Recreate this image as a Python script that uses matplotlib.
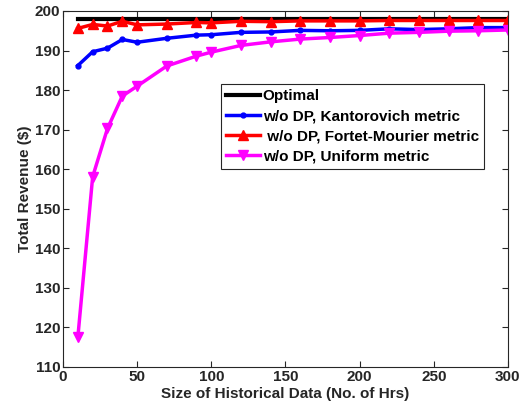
import matplotlib
matplotlib.use("Agg")
import matplotlib.pyplot as plt

plt.rcParams["font.family"] = ["Liberation Sans", "DejaVu Sans"]
plt.rcParams["font.weight"] = "bold"

# Size of historical data (hours)
hours = [10, 20, 30, 40, 50, 70, 90, 100, 120, 140, 160, 180, 200, 220, 240, 260, 280, 300]

optimal = [197.9] * len(hours)
kantorovich = [186.2, 189.7, 190.6, 192.8, 192.1, 193.1, 193.9, 194.0, 194.6, 194.7,
               195.1, 195.0, 195.1, 195.5, 195.3, 195.5, 195.8, 195.8]
fortet_mourier = [195.6, 196.6, 196.2, 197.4, 196.5, 196.7, 197.1, 197.0, 197.4, 197.3,
                  197.5, 197.5, 197.5, 197.6, 197.6, 197.6, 197.6, 197.6]
uniform = [117.5, 158.1, 170.3, 178.5, 181.0, 186.1, 188.6, 189.6, 191.3, 192.2,
           192.9, 193.3, 193.8, 194.4, 194.6, 194.9, 195.0, 195.2]

x_ticks = [0, 50, 100, 150, 200, 250, 300]
y_ticks = [110, 120, 130, 140, 150, 160, 170, 180, 190, 200]

fig = plt.figure(figsize=(5.22, 4.15), dpi=100)
ax = fig.add_axes([0.1207, 0.1157, 0.8523, 0.8578])

ax.plot(hours, optimal, color="black", linewidth=3, label="Optimal")
ax.plot(hours, kantorovich, color="blue", linewidth=2.5, marker=".", markersize=7,
        label="w/o DP, Kantorovich metric")
ax.plot(hours, fortet_mourier, color="red", linewidth=2.5, marker="^", markersize=7,
        label=" w/o DP, Fortet-Mourier metric")
ax.plot(hours, uniform, color="magenta", linewidth=2.5, marker="v", markersize=7,
        label="w/o DP, Uniform metric")

ax.set_xlim(0, 300)
ax.set_ylim(110, 200)
ax.set_xticks(x_ticks)
ax.set_yticks(y_ticks)
ax.tick_params(direction="in", top=True, right=True, labelsize=11, colors="#262626",
               length=4, width=0.8, pad=2)
for spine in ax.spines.values():
    spine.set_color("#262626")
    spine.set_linewidth(0.8)

ax.set_xlabel("Size of Historical Data (No. of Hrs)", fontsize=11, fontweight="bold",
              color="#262626", labelpad=2)
ax.set_ylabel("Total Revenue ($)", fontsize=11, fontweight="bold", color="#262626",
              labelpad=2)

leg = ax.legend(loc="upper right", bbox_to_anchor=(0.947, 0.796), fontsize=11,
                frameon=True, fancybox=False, edgecolor="#262626", framealpha=1,
                borderpad=0.35, labelspacing=0.4, handlelength=2.2, handletextpad=0.2,
                borderaxespad=0)
leg.get_frame().set_linewidth(0.8)
for text in leg.get_texts():
    text.set_fontweight("bold")

fig.savefig("out.png", dpi=100)
